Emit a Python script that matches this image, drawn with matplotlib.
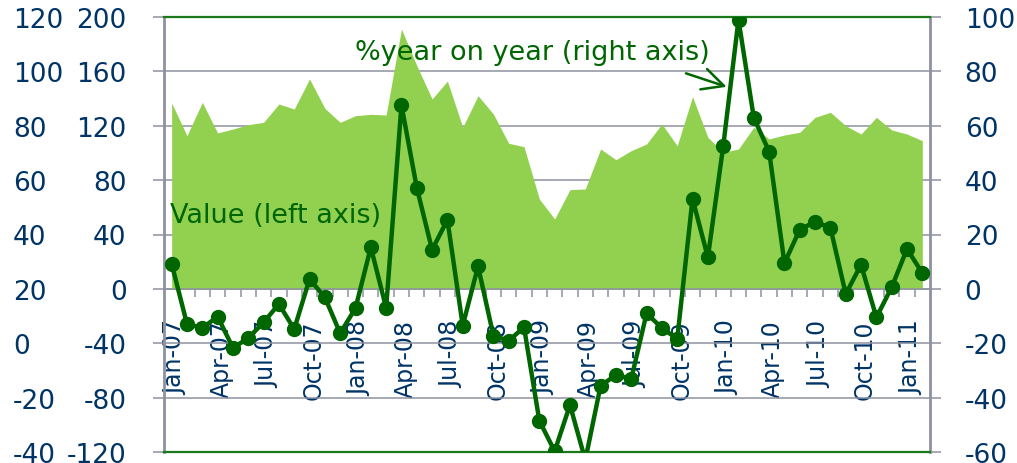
import matplotlib
matplotlib.use('Agg')
import matplotlib.pyplot as plt
import matplotlib.transforms as mtransforms
import numpy as np

plt.rcParams['axes.unicode_minus'] = False

# monthly categories Jan-07 .. Feb-11
month_names = ['Jan', 'Feb', 'Mar', 'Apr', 'May', 'Jun',
               'Jul', 'Aug', 'Sep', 'Oct', 'Nov', 'Dec']
categories = [f'{m}-{y:02d}' for y in range(7, 12) for m in month_names][:50]
tick_labels = categories[::3]

# value (left axis), area
value_left = [136.7, 112.7, 137.2, 114.7, 117.6, 120.8, 122.5, 136.0, 132.3, 154.4,
              132.8, 122.5, 127.4, 128.4, 127.9, 191.2, 164.2, 139.7, 152.9, 118.9,
              142.1, 128.6, 107.1, 104.6, 66.1, 51.4, 73.0, 73.5, 102.9, 95.0,
              101.7, 106.6, 121.3, 105.3, 141.4, 111.5, 100.5, 102.9, 118.9, 110.3,
              113.2, 115.2, 126.2, 129.9, 120.0, 113.9, 126.2, 116.9, 113.9, 109.0]

# % year on year (right axis), line
yoy_right = [9.2, -12.9, -14.4, -10.2, -21.7, -18.1, -12.3, -5.6, -14.8, 3.6,
             -3.1, -16.3, -7.1, 15.3, -7.0, 67.6, 37.2, 14.4, 25.4, -13.5,
             8.3, -17.2, -19.1, -14.1, -48.5, -59.7, -42.7, -63.0, -35.6, -31.7,
             -33.1, -9.0, -14.4, -18.4, 33.1, 11.6, 52.4, 99.0, 62.9, 50.5,
             9.5, 21.8, 24.7, 22.5, -1.9, 8.9, -10.5, 0.6, 14.7, 5.8]

left_ticks = list(range(-120, 201, 40))
right_ticks = list(range(-60, 101, 20))
outer_ticks = list(range(-40, 121, 20))

area_c = '#92D050'
line_c = '#006600'
border_c = '#1a7a1a'
grid_c = '#8e929f'
navy = '#003366'
fs = 19

fig = plt.figure(figsize=(10.17, 4.64), dpi=100)
ax = fig.add_axes([164 / 1017, 11 / 464, 766 / 1017, 435 / 464])
x = np.arange(len(categories))

ax.fill_between(x, value_left, 0, color=area_c, lw=0, zorder=2)
ax.set_xlim(-0.5, len(categories) - 0.5)
ax.set_ylim(-120, 200)
ax.set_yticks(left_ticks)
ax.grid(axis='y', color=grid_c, lw=1.1)
ax.set_axisbelow(True)

ax.spines['bottom'].set_position(('data', 0))
ax.spines['bottom'].set_color(grid_c)
ax.spines['bottom'].set_linewidth(1.1)
ax.spines['top'].set_visible(False)
ax.spines['right'].set_visible(False)
ax.spines['left'].set_color(grid_c)
ax.spines['left'].set_linewidth(2)

ax.set_xticks(x[::3])
ax.set_xticklabels(tick_labels, rotation=90)
ax.set_xticks(np.arange(0.5, len(categories) - 1, 1), minor=True)
ax.tick_params(axis='x', which='major', length=0, pad=22, labelsize=17, labelcolor=navy)
ax.tick_params(axis='x', which='minor', length=6, width=1.1, color=grid_c, direction='out')
shift = mtransforms.ScaledTranslation(4 / 100, 0, fig.dpi_scale_trans)
for lab in ax.get_xticklabels():
    lab.set_transform(lab.get_transform() + shift)
ax.tick_params(axis='y', length=8, width=1.1, color=grid_c, pad=19,
               labelsize=fs, labelcolor=navy)

ax.text(-0.1, 54.4, 'Value (left axis)', color=line_c, fontsize=19.5,
        va='center', ha='left', zorder=4)

# right axis: % yoy
ax2 = ax.twinx()
ax2.set_ylim(-60, 100)
ax2.set_yticks(right_ticks)
ax2.tick_params(axis='y', length=8, width=1.1, color=grid_c, pad=17,
                labelsize=fs, labelcolor=navy)
shown = [i for i, v in enumerate(yoy_right) if v >= -60]
ax2.plot(x, yoy_right, color=line_c, lw=3.2, marker='o', ms=10,
         markevery=shown, zorder=3)
for s in ['top', 'bottom']:
    ax2.spines[s].set_color(border_c)
    ax2.spines[s].set_linewidth(1.6)
ax2.spines['left'].set_visible(False)
ax2.spines['right'].set_color(grid_c)
ax2.spines['right'].set_linewidth(2)

ax2.text(11.96, 87.1, '%year on year (right axis)', color=line_c, fontsize=19.5,
         va='center', ha='left')
ax2.annotate('', xy=(36.4, 74.0), xytext=(33.4, 79.6),
             arrowprops=dict(arrowstyle='->,head_length=0.7,head_width=0.35',
                             color=line_c, lw=1.8, mutation_scale=22))

# extra outer left scale (left-aligned labels)
ax3 = ax.twinx()
ax3.set_ylim(-40, 120)
ax3.set_yticks([])
for s in ax3.spines.values():
    s.set_visible(False)
outer_tr = mtransforms.blended_transform_factory(fig.transFigure, ax3.transData)
for v in outer_ticks:
    ax3.text(13 / 1017, v, str(v), transform=outer_tr, ha='left', va='center_baseline',
             fontsize=fs, color=navy, clip_on=False)

fig.savefig('out.png', dpi=100)
